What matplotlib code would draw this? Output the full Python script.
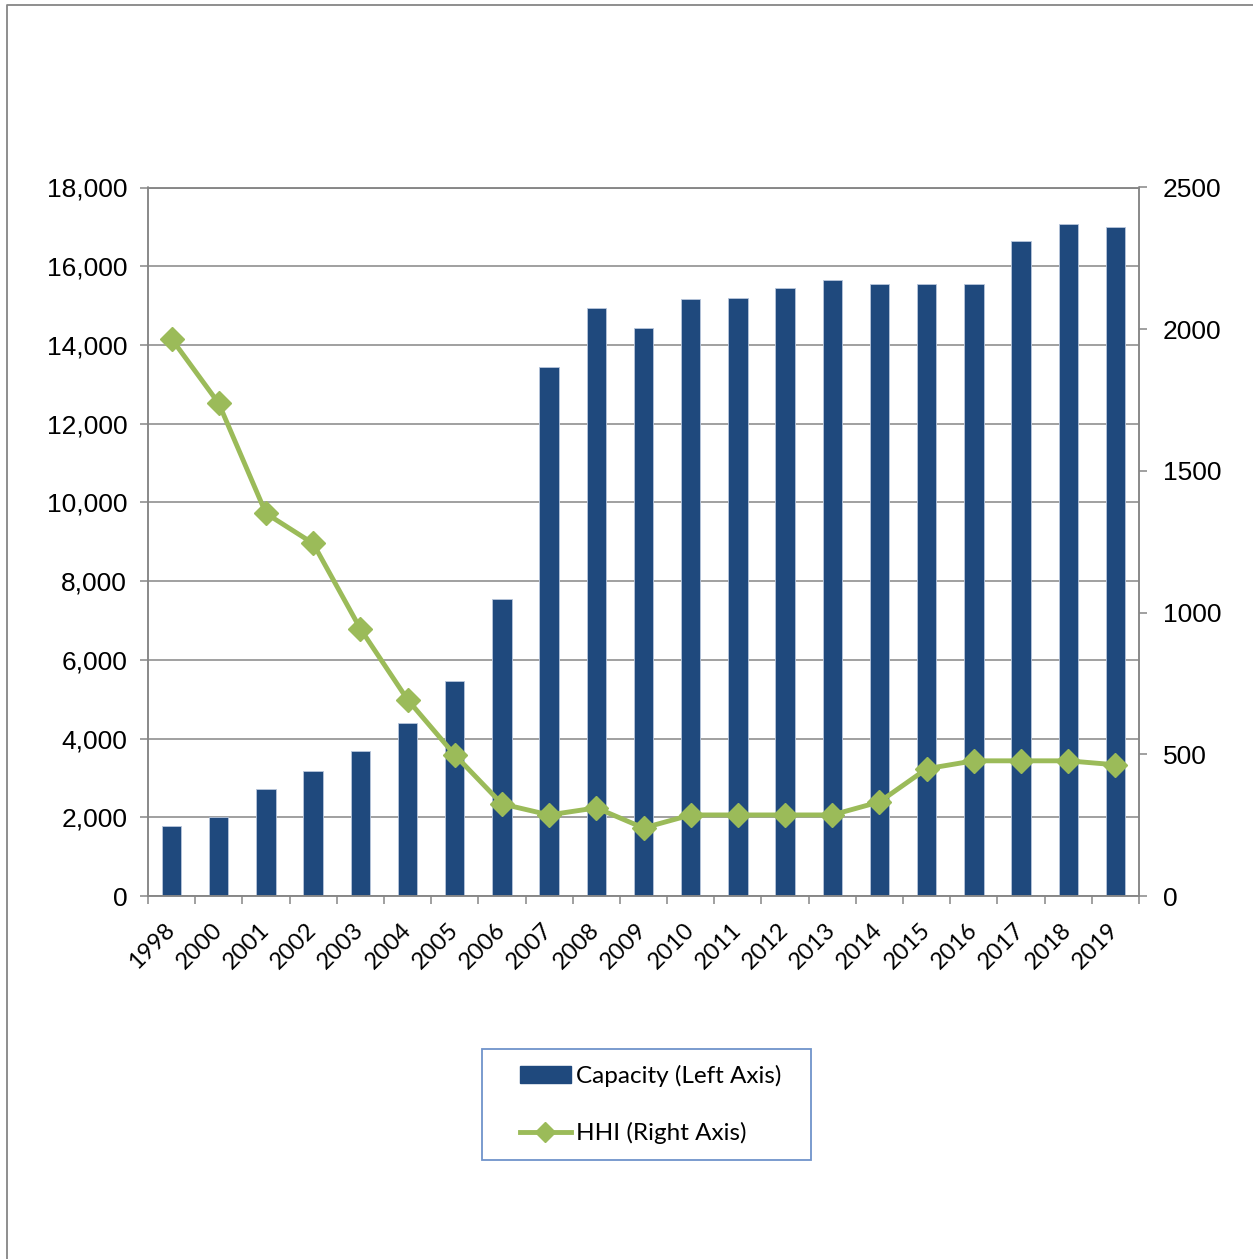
import matplotlib
matplotlib.use("Agg")
import matplotlib.pyplot as plt
import numpy as np
from matplotlib.lines import Line2D
from matplotlib.patches import Rectangle

# values
years = ["1998", "2000", "2001", "2002", "2003", "2004", "2005", "2006", "2007", "2008", "2009",
         "2010", "2011", "2012", "2013", "2014", "2015", "2016", "2017", "2018", "2019"]
capacity = [1780, 2000, 2720, 3170, 3680, 4390, 5460, 7540, 13440, 14930, 14420,
            15160, 15190, 15440, 15640, 15560, 15560, 15560, 16630, 17080, 16990]
hhi = [1966, 1738, 1350, 1244, 943, 693, 498, 325, 286, 311, 240,
       286, 286, 286, 286, 332, 449, 477, 477, 477, 463]

bar_color = "#1F497D"
line_color = "#9BBB59"
grid_color = "#868686"
num_font = "Liberation Sans"
text_font = "Lato"

W, H = 1253, 1259
fig = plt.figure(figsize=(W / 100, H / 100), dpi=100)
ax = fig.add_axes([148 / W, 1 - 896 / H, (1139 - 148) / W, (896 - 187.5) / H])
ax2 = ax.twinx()

x = np.arange(len(years))
ax.bar(x, capacity, width=0.41, color=bar_color, edgecolor="#b8c6dc", linewidth=0.6, zorder=2)
ax.set_xlim(-0.5, len(years) - 0.5)
ax.set_ylim(0, 18000)
ax.set_yticks(np.arange(0, 18001, 2000))
ax.set_yticklabels(["{:,}".format(v) for v in range(0, 18001, 2000)])
ax.grid(axis="y", color=grid_color, linewidth=1.1, zorder=0)
ax.set_axisbelow(True)

ax2.plot(x, hhi, color=line_color, linewidth=3.5, marker="D", markersize=12,
         markerfacecolor=line_color, markeredgecolor=line_color, zorder=3)
ax2.set_ylim(0, 2500)
ax2.set_yticks(range(0, 2501, 500))

# x ticks: marks between categories, labels under each bar
ax.set_xticks(np.arange(-0.5, len(years), 1.0), minor=True)
ax.set_xticks(x)
ax.set_xticklabels(years, rotation=45, ha="right", va="center", rotation_mode="anchor",
                   family=text_font, fontsize=17)
ax.tick_params(axis="x", which="major", length=0, pad=22)
ax.tick_params(axis="x", which="minor", length=6, width=1.1, color=grid_color)

ax.tick_params(axis="y", length=6, width=1.1, color=grid_color, pad=9, labelsize=19)
ax2.tick_params(axis="y", length=6, width=1.1, color=grid_color, pad=11, labelsize=19)
for lab in ax.get_yticklabels() + ax2.get_yticklabels():
    lab.set_family(num_font)

for a in (ax, ax2):
    for s in a.spines.values():
        s.set_color(grid_color)
        s.set_linewidth(1.1)

# legend below the plot, box drawn separately
handles = [plt.Rectangle((0, 0), 1, 1, color=bar_color),
           Line2D([0], [0], color=line_color, linewidth=3.5, marker="D", markersize=10)]
leg = fig.legend(handles, ["Capacity (Left Axis)", "HHI (Right Axis)"],
                 loc="center", bbox_to_anchor=(650.5 / W, 1 - 1104.5 / H),
                 bbox_transform=fig.transFigure, frameon=False,
                 prop={"family": text_font, "size": 17.5}, handlelength=2.1,
                 handletextpad=0.2, labelspacing=1.45, borderpad=0, borderaxespad=0)
fig.add_artist(Rectangle((482 / W, 1 - 1160 / H), (811 - 482) / W, (1160 - 1049) / H,
                         transform=fig.transFigure, fill=False,
                         edgecolor="#6F93CA", linewidth=1.3))

# outer chart border (top and left edges show)
fig.add_artist(Line2D([7 / W, 7 / W, 1.01], [-0.01, 1 - 5 / H, 1 - 5 / H],
                      transform=fig.transFigure, color=grid_color, linewidth=1.3))

fig.savefig("out.png", dpi=100)
